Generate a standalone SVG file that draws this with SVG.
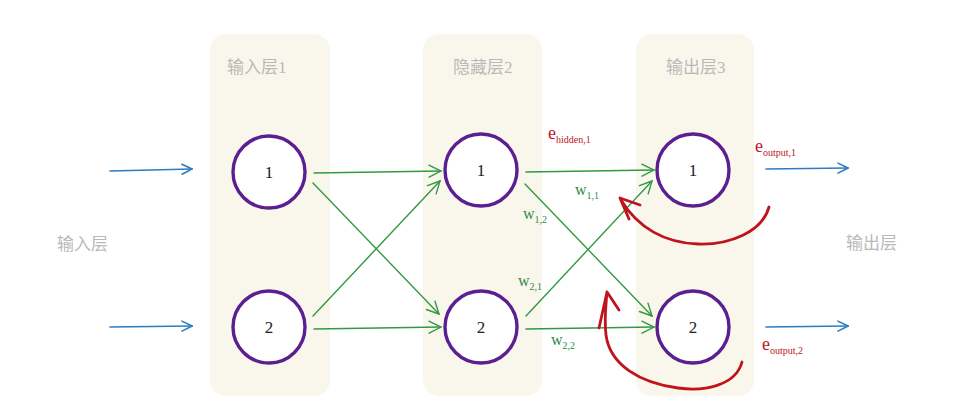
<svg xmlns="http://www.w3.org/2000/svg" width="974" height="412" viewBox="0 0 974 412">
<style>
.panel{fill:#f9f7ec}
.title{font-family:"Liberation Serif","Noto Sans CJK SC",serif;font-size:17px;fill:#b9b9b9}
.node{fill:#fff;stroke:#5c1f92;stroke-width:3.4}
.num{font-family:"Liberation Serif",serif;font-size:17px;fill:#222;text-anchor:middle}
.blue{stroke:#2f7bbf;stroke-width:1.6;fill:none;stroke-linecap:round}
.green{stroke:#329a42;stroke-width:1.4;fill:none;stroke-linecap:round}
.red{stroke:#c0141c;stroke-width:2.8;fill:none;stroke-linecap:round;stroke-linejoin:round}
.w{font-family:"Liberation Serif",serif;font-size:16px;fill:#2e8a48}
.e{font-family:"Liberation Serif",serif;font-size:18px;fill:#c0141c}
.sub{font-size:10px}
</style>
<defs>
<marker id="ab" viewBox="0 0 12 12" refX="11" refY="6" markerWidth="12" markerHeight="12" markerUnits="userSpaceOnUse" orient="auto">
<path d="M1,1 L11,6 L1,11" fill="none" stroke="#2f7bbf" stroke-width="1.6" stroke-linecap="round"/>
</marker>
<marker id="ag" viewBox="0 0 14 14" refX="13" refY="7" markerWidth="14" markerHeight="14" markerUnits="userSpaceOnUse" orient="auto">
<path d="M1,1 L13,7 L1,13" fill="none" stroke="#329a42" stroke-width="1.4" stroke-linecap="round"/>
</marker>
</defs>
<rect width="974" height="412" fill="#fff"/>
<g id="layer1">
<rect class="panel" x="210" y="34" width="120" height="362" rx="16"/>
<text class="title" x="227" y="73">输入层1</text>
</g>
<g id="layer2">
<rect class="panel" x="423" y="34" width="119" height="362" rx="16"/>
<text class="title" x="453" y="73">隐藏层2</text>
</g>
<g id="layer3">
<rect class="panel" x="636" y="34" width="118" height="362" rx="16"/>
<text class="title" x="666" y="73">输出层3</text>
</g>
<g id="label-in"><text class="title" x="57" y="250">输入层</text></g>
<g id="label-out"><text class="title" x="846" y="249">输出层</text></g>
<g id="in1"><circle class="node" cx="269" cy="172" r="36"/><text class="num" x="269" y="178">1</text></g>
<g id="in2"><circle class="node" cx="269" cy="327" r="36"/><text class="num" x="269" y="333">2</text></g>
<g id="h1"><circle class="node" cx="481" cy="170" r="36"/><text class="num" x="481" y="176">1</text></g>
<g id="h2"><circle class="node" cx="481" cy="327" r="36"/><text class="num" x="481" y="333">2</text></g>
<g id="o1"><circle class="node" cx="693" cy="170" r="36"/><text class="num" x="693" y="176">1</text></g>
<g id="o2"><circle class="node" cx="693" cy="327" r="36"/><text class="num" x="693" y="333">2</text></g>
<g id="connectors">
<path class="blue" d="M110,171 L192,169" marker-end="url(#ab)"/>
<path class="blue" d="M110,327 L192,326" marker-end="url(#ab)"/>
<path class="blue" d="M766,169 L848,168" marker-end="url(#ab)"/>
<path class="blue" d="M766,327 L848,326" marker-end="url(#ab)"/>
<path class="green" d="M314,173 L441,171" marker-end="url(#ag)"/>
<path class="green" d="M313,183 L439,314" marker-end="url(#ag)"/>
<path class="green" d="M313,316 L440,181" marker-end="url(#ag)"/>
<path class="green" d="M314,329 L441,327" marker-end="url(#ag)"/>
<path class="green" d="M526,172 L654,170" marker-end="url(#ag)"/>
<path class="green" d="M525,184 L652,316" marker-end="url(#ag)"/>
<path class="green" d="M526,316 L652,181" marker-end="url(#ag)"/>
<path class="green" d="M526,329 L654,327" marker-end="url(#ag)"/>
<path class="red" d="M769,207 C762,232 730,245 698,244 C665,243 638,228 621,200 M620,198 L629,219 M620,198 L640,205"/>
<path class="red" d="M742,362 C736,385 705,392 678,388 C640,383 610,365 606,335 C604,318 606,305 607,292 M607,292 L599,328 M607,292 L619,310"/>
</g>
<g id="weights">
<text class="w" x="575" y="195">w<tspan class="sub" dy="4">1,1</tspan></text>
<text class="w" x="523" y="219">w<tspan class="sub" dy="4">1,2</tspan></text>
<text class="w" x="518" y="286">w<tspan class="sub" dy="4">2,1</tspan></text>
<text class="w" x="551" y="345">w<tspan class="sub" dy="4">2,2</tspan></text>
</g>
<g id="errors">
<text class="e" x="548" y="139">e<tspan class="sub" dy="4">hidden,1</tspan></text>
<text class="e" x="755" y="152">e<tspan class="sub" dy="4">output,1</tspan></text>
<text class="e" x="762" y="350">e<tspan class="sub" dy="4">output,2</tspan></text>
</g>
</svg>
